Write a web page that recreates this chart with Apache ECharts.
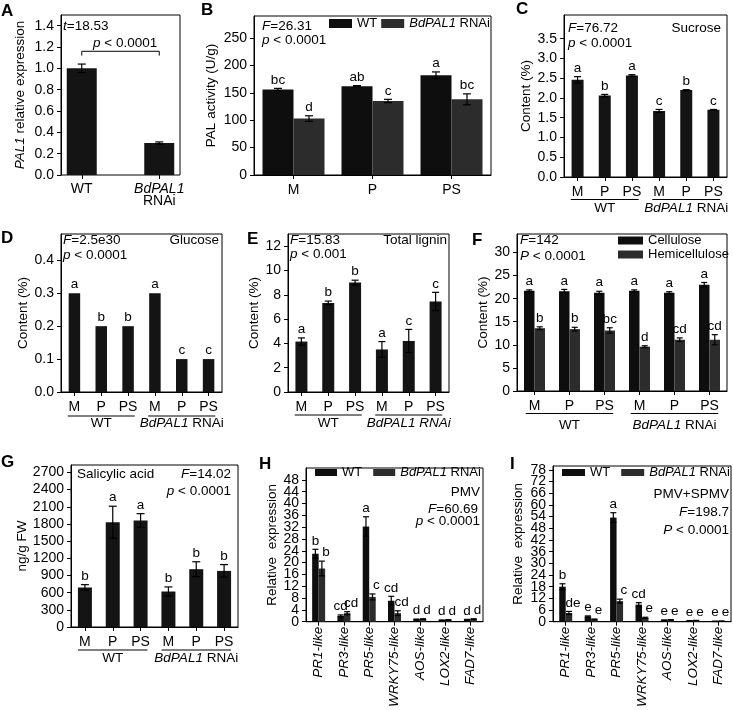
<!DOCTYPE html>
<html><head><meta charset="utf-8">
<script src="https://cdn.jsdelivr.net/npm/echarts@6/dist/echarts.min.js"></script>
<style>html,body{margin:0;padding:0;background:#fff}#c{width:733px;height:710px}</style>
</head><body><div id="c"></div>
<script>
// ---------------- DATA ----------------
const aCats = ['WT', 'BdPAL1 RNAi'];
const aVals = [1.0, 0.30];
const aErr = [0.04, 0.01];
const aTicks = [0, 0.2, 0.4, 0.6, 0.8, 1.0, 1.2, 1.4];

const bCats = ['M', 'P', 'PS'];
const bWT = [156, 162, 182];
const bWTErr = [2, 1, 6];
const bWTLet = ['bc', 'ab', 'a'];
const bRNAi = [103, 135, 138];
const bRNAiErr = [5, 3, 10];
const bRNAiLet = ['d', 'c', 'bc'];
const bTicks = [0, 50, 100, 150, 200, 250];

const sixCats = ['M', 'P', 'PS', 'M', 'P', 'PS'];
const groupNames = ['WT', 'BdPAL1 RNAi'];

const cVals = [2.46, 2.06, 2.57, 1.67, 2.20, 1.70];
const cErr = [0.08, 0.03, 0.02, 0.04, 0.01, 0.01];
const cLet = ['a', 'b', 'a', 'c', 'b', 'c'];
const cTicks = [0, 0.5, 1.0, 1.5, 2.0, 2.5, 3.0, 3.5];

const dVals = [0.3, 0.2, 0.2, 0.3, 0.1, 0.1];
const dErr = [0, 0, 0, 0, 0, 0];
const dLet = ['a', 'b', 'b', 'a', 'c', 'c'];
const dTicks = [0, 0.1, 0.2, 0.3, 0.4];

const eVals = [4.15, 7.33, 9.0, 3.5, 4.2, 7.45];
const eErr = [0.3, 0.15, 0.2, 0.65, 0.95, 0.75];
const eLet = ['a', 'b', 'b', 'a', 'c', 'c'];
const eTicks = [0, 2, 4, 6, 8, 10, 12];

const fCell = [21.7, 21.6, 21.3, 21.7, 21.3, 23.0];
const fCellErr = [0.2, 0.4, 0.3, 0.2, 0.2, 0.5];
const fCellLet = ['a', 'a', 'a', 'a', 'a', 'a'];
const fHemi = [13.6, 13.4, 13.1, 9.6, 11.1, 11.1];
const fHemiErr = [0.3, 0.4, 0.6, 0.2, 0.4, 1.1];
const fHemiLet = ['b', 'b', 'bc', 'd', 'cd', 'cd'];
const fTicks = [0, 5, 10, 15, 20, 25, 30];

const gVals = [690, 1830, 1860, 620, 1010, 980];
const gErr = [50, 280, 120, 80, 130, 110];
const gLet = ['b', 'a', 'a', 'b', 'b', 'b'];
const gTicks = [0, 300, 600, 900, 1200, 1500, 1800, 2100, 2400, 2700];

const genes = ['PR1-like', 'PR3-like', 'PR5-like', 'WRKY75-like', 'AOS-like', 'LOX2-like', 'FAD7-like'];
const hWT = [23.0, 2.0, 32.2, 7.1, 0.8, 0.5, 0.7];
const hWTErr = [1.5, 0.3, 3.3, 1.5, 0.1, 0.1, 0.1];
const hWTLet = ['b', 'cd', 'a', 'cd', 'd', 'd', 'd'];
const hRNAi = [18.0, 2.9, 8.4, 2.9, 0.9, 0.6, 0.9];
const hRNAiErr = [2.5, 0.5, 1.0, 0.8, 0.1, 0.1, 0.1];
const hRNAiLet = ['b', 'cd', 'c', 'cd', 'd', 'd', 'd'];
const hTicks = [0, 4, 8, 12, 16, 20, 24, 28, 32, 36, 40, 44, 48];

const iWT = [18.0, 2.7, 53.5, 8.8, 0.8, 0.5, 0.2];
const iWTErr = [1.5, 0.3, 2.5, 1.0, 0.1, 0.1, 0.1];
const iWTLet = ['b', 'e', 'a', 'cd', 'e', 'e', 'e'];
const iRNAi = [4.5, 1.2, 10.6, 2.0, 1.0, 0.6, 0.3];
const iRNAiErr = [0.8, 0.2, 1.0, 0.3, 0.1, 0.1, 0.1];
const iRNAiLet = ['de', 'e', 'c', 'e', 'e', 'e', 'e'];
const iTicks = [0, 6, 12, 18, 24, 30, 36, 42, 48, 54, 60, 66, 72, 78];

// ---------------- STYLE / HELPERS ----------------
const FONT = "'Liberation Sans', Arial, Helvetica, sans-serif";
const BLACK = '#0e0e0e', GREY = '#2c2c2c', SOLO = '#141414';
const TICKFS = 14, FS = 13.5, XFS = 14, LFS = 13;
const ITAL = { fontStyle: 'italic', fontSize: FS, fontFamily: FONT, color: '#000' };
const ITALX = { fontStyle: 'italic', fontSize: XFS, fontFamily: FONT, color: '#000' };
const ITALL = { fontStyle: 'italic', fontSize: LFS, fontFamily: FONT, color: '#000' };
const ITALG = { fontStyle: 'italic', fontSize: FS, fontFamily: FONT, fill: '#000' };

function merge(a, b) {
  const o = Array.isArray(a) ? a.slice() : Object.assign({}, a);
  for (const k in b) {
    if (b[k] && typeof b[k] === 'object' && !Array.isArray(b[k]) && typeof b[k] !== 'function' && a[k] && typeof a[k] === 'object') o[k] = merge(a[k], b[k]);
    else o[k] = b[k];
  }
  return o;
}
const grids = [], xAxes = [], yAxes = [], series = [], legends = [];
function addGrid(l, t, w, h, show) {
  grids.push({ left: l, top: t, width: w, height: h, show: show !== false, borderColor: '#000', borderWidth: 1, backgroundColor: 'rgba(0,0,0,0)' });
  return grids.length - 1;
}
function catX(gi, cats, opts) {
  xAxes.push(merge({
    gridIndex: gi, type: 'category', data: cats, boundaryGap: true,
    axisLine: { show: true, lineStyle: { color: '#000', width: 1 } },
    axisTick: { show: true, alignWithLabel: true, length: 4, lineStyle: { color: '#000', width: 1 } },
    axisLabel: { interval: 0, color: '#000', fontSize: XFS, fontFamily: FONT, margin: 8 },
    splitLine: { show: false }
  }, opts || {}));
  return xAxes.length - 1;
}
function hidX(gi) { xAxes.push({ gridIndex: gi, type: 'value', min: 0, max: 1, show: false }); return xAxes.length - 1; }
function hidY(gi, max) { yAxes.push({ gridIndex: gi, type: 'value', min: 0, max: max, show: false }); return yAxes.length - 1; }
function valY(gi, max, ticks, name, gap, fmt, noLine) {
  yAxes.push({
    gridIndex: gi, type: 'value', min: 0, max: max, position: 'left', offset: 0,
    axisLine: { show: !noLine, lineStyle: { color: '#000', width: 1 } },
    axisTick: { show: true, length: 4, customValues: ticks, lineStyle: { color: '#000', width: 1 } },
    axisLabel: { customValues: ticks, showMinLabel: true, showMaxLabel: true, hideOverlap: false, margin: 7, color: '#000', fontSize: TICKFS, fontFamily: FONT, formatter: fmt || (v => String(v)) },
    splitLine: { show: false },
    name: name, nameLocation: 'middle', nameGap: gap,
    nameTextStyle: { color: '#000', fontSize: FS, fontFamily: FONT, rich: { i: ITAL } }
  });
  return yAxes.length - 1;
}
// dense tick sets are split over two overlaid axes so every label is kept
const evenT = t => t.filter((_, k) => k % 2 === 0);
const oddT = t => t.filter((_, k) => k % 2 === 1);
function bar(name, xi, yi, data, color, w) {
  series.push({ name: name, type: 'bar', xAxisIndex: xi, yAxisIndex: yi, data: data, barWidth: w, barGap: '0%',
    itemStyle: { color: color }, silent: true, z: 2 });
}
function errs(xi, yi, vals, es, lets, off, ldx, cap) {
  series.push({
    type: 'custom', xAxisIndex: xi, yAxisIndex: yi, silent: true, z: 5, clip: false,
    data: vals.map((v, i) => [i, v, es[i]]),
    renderItem: function (params, api) {
      const i = api.value(0), v = api.value(1), e = api.value(2);
      const x = api.coord([i, v])[0] + off;
      const yT = api.coord([i, v + e])[1], yB = api.coord([i, v - e])[1];
      const ch = [];
      const ls = { stroke: '#000', lineWidth: 1.2 };
      if (e > 0) {
        ch.push({ type: 'line', shape: { x1: x, y1: yT, x2: x, y2: yB }, style: ls });
        ch.push({ type: 'line', shape: { x1: x - cap, y1: yT, x2: x + cap, y2: yT }, style: ls });
        ch.push({ type: 'line', shape: { x1: x - cap, y1: yB, x2: x + cap, y2: yB }, style: ls });
      }
      const L = lets[params.dataIndex];
      if (L) ch.push({ type: 'text', x: x + ldx, y: yT - 1.5, style: { text: L, fill: '#000', fontSize: FS, fontFamily: FONT, align: 'center', verticalAlign: 'bottom' } });
      return { type: 'group', children: ch };
    }
  });
}
const fmt1 = v => v.toFixed(1);
const richName = n => n.replace('BdPAL1', '{i|BdPAL1}');
function legend(data, l, t, iw, ih, gap, orient) {
  legends.push({ data: data, left: l, top: t, itemWidth: iw, itemHeight: ih, itemGap: gap, orient: orient || 'horizontal',
    icon: 'rect', padding: 0, selectedMode: false,
    formatter: richName,
    textStyle: { color: '#000', fontSize: LFS, fontFamily: FONT, rich: { i: ITALL } } });
}

// ---------------- PANELS ----------------
// A
const gA = addGrid(61, 15, 119, 160);
hidX(gA);
const yA = valY(gA, 1.5, aTicks, '{i|PAL1} relative expression', 34, fmt1);
const gA2 = addGrid(43, 15, 155, 160, false);
const xA = catX(gA2, aCats, { axisLine: { show: false }, axisLabel: { lineHeight: 12, formatter: v => richName(v).replace(' ', '\n'), rich: { i: ITALX } } });
const yA2 = hidY(gA2, 1.5);
bar('A', xA, yA2, aVals, SOLO, 30);
errs(xA, yA2, aVals, aErr, [], 0, 0, 4);

// B
const gB = addGrid(254, 16, 237, 159);
const xB = catX(gB, bCats);
const yB = valY(gB, 290, bTicks, 'PAL activity (U/g)', 36);
bar('WT', xB, yB, bWT, BLACK, 31);
bar('BdPAL1 RNAi', xB, yB, bRNAi, GREY, 31);
errs(xB, yB, bWT, bWTErr, bWTLet, -15.5, 0, 4);
errs(xB, yB, bRNAi, bRNAiErr, bRNAiLet, 15.5, 0, 4);
legend(['WT', 'BdPAL1 RNAi'], 329, 17, 23, 9, 4);

// C
const gC = addGrid(564, 15, 163, 162);
const xC = catX(gC, sixCats);
const yC = valY(gC, 4.1, cTicks, 'Content (%)', 30, fmt1);
bar('C', xC, yC, cVals, SOLO, 12);
errs(xC, yC, cVals, cErr, cLet, 0, 0, 3.5);

// D
const gD = addGrid(61, 234, 161, 158);
const xD = catX(gD, sixCats);
const yD = valY(gD, 0.48, dTicks, 'Content (%)', 28, fmt1);
bar('D', xD, yD, dVals, SOLO, 11.5);
errs(xD, yD, dVals, dErr, dLet, 0, 0, 3.5);

// E
const gE = addGrid(288, 234, 161, 158);
const xE = catX(gE, sixCats);
const yE = valY(gE, 13, eTicks, 'Content (%)', 25);
bar('E', xE, yE, eVals, SOLO, 12);
errs(xE, yE, eVals, eErr, eLet, 0, 0, 3.5);

// F
const gF = addGrid(517, 234, 210, 157);
const xF = catX(gF, sixCats);
const yF = valY(gF, 34, fTicks, 'Content (%)', 25);
bar('Cellulose', xF, yF, fCell, BLACK, 10.5);
bar('Hemicellulose', xF, yF, fHemi, GREY, 10.5);
errs(xF, yF, fCell, fCellErr, fCellLet, -5.25, 0, 3);
errs(xF, yF, fHemi, fHemiErr, fHemiLet, 5.25, 0, 3);
legend(['Cellulose', 'Hemicellulose'], 618, 234, 25, 8, 1, 'vertical');

// G
const gG = addGrid(71, 465, 167, 162);
const xG = catX(gG, sixCats);
const yG = valY(gG, 2830, gTicks, 'ng/g FW', 40);
bar('G', xG, yG, gVals, SOLO, 14);
errs(xG, yG, gVals, gErr, gLet, 0, 0, 4);

// H
const gH = addGrid(306, 468, 177, 159);
const xH = catX(gH, genes, { axisLabel: { rotate: 90, fontStyle: 'italic', fontSize: 13.5, margin: 5 } });
const yH = valY(gH, 52, evenT(hTicks), 'Relative  expression', 27);
valY(gH, 52, oddT(hTicks), '', 27, null, true);
bar('WT', xH, yH, hWT, BLACK, 6.5);
bar('BdPAL1 RNAi', xH, yH, hRNAi, GREY, 6.5);
errs(xH, yH, hWT, hWTErr, hWTLet, -3.25, 0, 3);
errs(xH, yH, hRNAi, hRNAiErr, hRNAiLet, 3.25, 4, 3);
legend(['WT', 'BdPAL1 RNAi'], 315, 466, 22, 7, 11);

// I
const gI = addGrid(553, 466, 178, 161);
const xI = catX(gI, genes, { axisLabel: { rotate: 90, fontStyle: 'italic', fontSize: 13.5, margin: 5 } });
const yI = valY(gI, 80, evenT(iTicks), 'Relative  expression', 28);
valY(gI, 80, oddT(iTicks), '', 28, null, true);
bar('WT', xI, yI, iWT, BLACK, 6.5);
bar('BdPAL1 RNAi', xI, yI, iRNAi, GREY, 6.5);
errs(xI, yI, iWT, iWTErr, iWTLet, -3.25, 0, 3);
errs(xI, yI, iRNAi, iRNAiErr, iRNAiLet, 3.25, 4, 3);
legend(['WT', 'BdPAL1 RNAi'], 562, 466, 23, 7, 11);

const chart = echarts.init(document.getElementById('c'), null, { renderer: 'canvas' });
chart.setOption({ animation: false, textStyle: { fontFamily: FONT }, grid: grids, xAxis: xAxes, yAxis: yAxes, series: series, legend: legends });

// ---------------- ANNOTATIONS ----------------
const els = [];
function txt(t, x, y, align, opt) {
  els.push({ type: 'text', x: x, y: y, silent: true, z: 10,
    style: Object.assign({ text: t, fill: '#000', fontSize: FS, fontFamily: FONT, align: align || 'left', verticalAlign: 'middle', rich: { i: ITALG } }, opt || {}) });
}
function line(x1, y1, x2, y2) {
  els.push({ type: 'line', silent: true, z: 10, shape: { x1: x1, y1: y1, x2: x2, y2: y2 }, style: { stroke: '#000', lineWidth: 1 } });
}
const PL = { fontSize: 17, fontWeight: 'bold' };
txt('A', 1, 11, 'left', PL); txt('B', 201, 10, 'left', PL); txt('C', 516, 9, 'left', PL);
txt('D', 1, 238, 'left', PL); txt('E', 247, 239, 'left', PL); txt('F', 472, 240, 'left', PL);
txt('G', 1, 462, 'left', PL); txt('H', 259, 464, 'left', PL); txt('I', 510, 464, 'left', PL);

txt('{i|t}=18.53', 63, 26); txt('{i|p} < 0.0001', 93, 43);
txt('{i|F}=26.31', 262, 26); txt('{i|p} < 0.0001', 262, 40);
txt('{i|F}=76.72', 568, 28); txt('{i|p} < 0.0001', 568, 43); txt('Sucrose', 721, 28, 'right');
txt('{i|F}=2.5e30', 63, 240); txt('{i|p} < 0.0001', 63, 255); txt('Glucose', 219, 240, 'right');
txt('{i|F}=15.83', 290, 240); txt('{i|p} < 0.001', 290, 254); txt('Total lignin', 447, 240, 'right');
txt('{i|F}=142', 520, 240); txt('{i|P} < 0.0001', 520, 256);
txt('Salicylic acid', 77, 474); txt('{i|F}=14.02', 231, 474, 'right'); txt('{i|p} < 0.0001', 231, 491, 'right');
txt('PMV', 480, 492, 'right'); txt('{i|F}=60.69', 478, 509, 'right'); txt('{i|p} < 0.0001', 480, 521, 'right');
txt('PMV+SPMV', 729, 494, 'right'); txt('{i|F}=198.7', 729, 512, 'right'); txt('{i|P} < 0.0001', 729, 530, 'right');

// bracket in A
const bx0 = chart.convertToPixel({ xAxisIndex: xA }, 0), bx1 = chart.convertToPixel({ xAxisIndex: xA }, 1);
const by0 = chart.convertToPixel({ yAxisIndex: yA }, 1.16), by1 = chart.convertToPixel({ yAxisIndex: yA }, 1.12);
els.push({ type: 'polyline', silent: true, z: 10, shape: { points: [[bx0, by1], [bx0, by0], [bx1, by0], [bx1, by1]] }, style: { stroke: '#000', lineWidth: 1, fill: null } });

// group labels under six-category panels
function groups(xi, gi, lineY, textY, rnaiItalic) {
  const band = grids[gi].width / sixCats.length;
  [[0, 2], [3, 5]].forEach((r, k) => {
    const a = chart.convertToPixel({ xAxisIndex: xi }, r[0]);
    const b = chart.convertToPixel({ xAxisIndex: xi }, r[1]);
    const m = chart.convertToPixel({ xAxisIndex: xi }, r[0] + 1);
    line(a - band * 0.25, lineY, b + band * 0.25, lineY);
    const name = groupNames[k];
    if (rnaiItalic && k === 1) txt(name, m, textY, 'center', { fontStyle: 'italic' });
    else txt(richName(name), m, textY, 'center');
  });
}
groups(xC, gC, 199.5, 208, false);
groups(xD, gD, 416, 423, false);
groups(xE, gE, 415, 423.5, true);
groups(xF, gF, 413.5, 425, false);
groups(xG, gG, 650, 658, false);

chart.setOption({ graphic: { elements: els } });
</script></body></html>
